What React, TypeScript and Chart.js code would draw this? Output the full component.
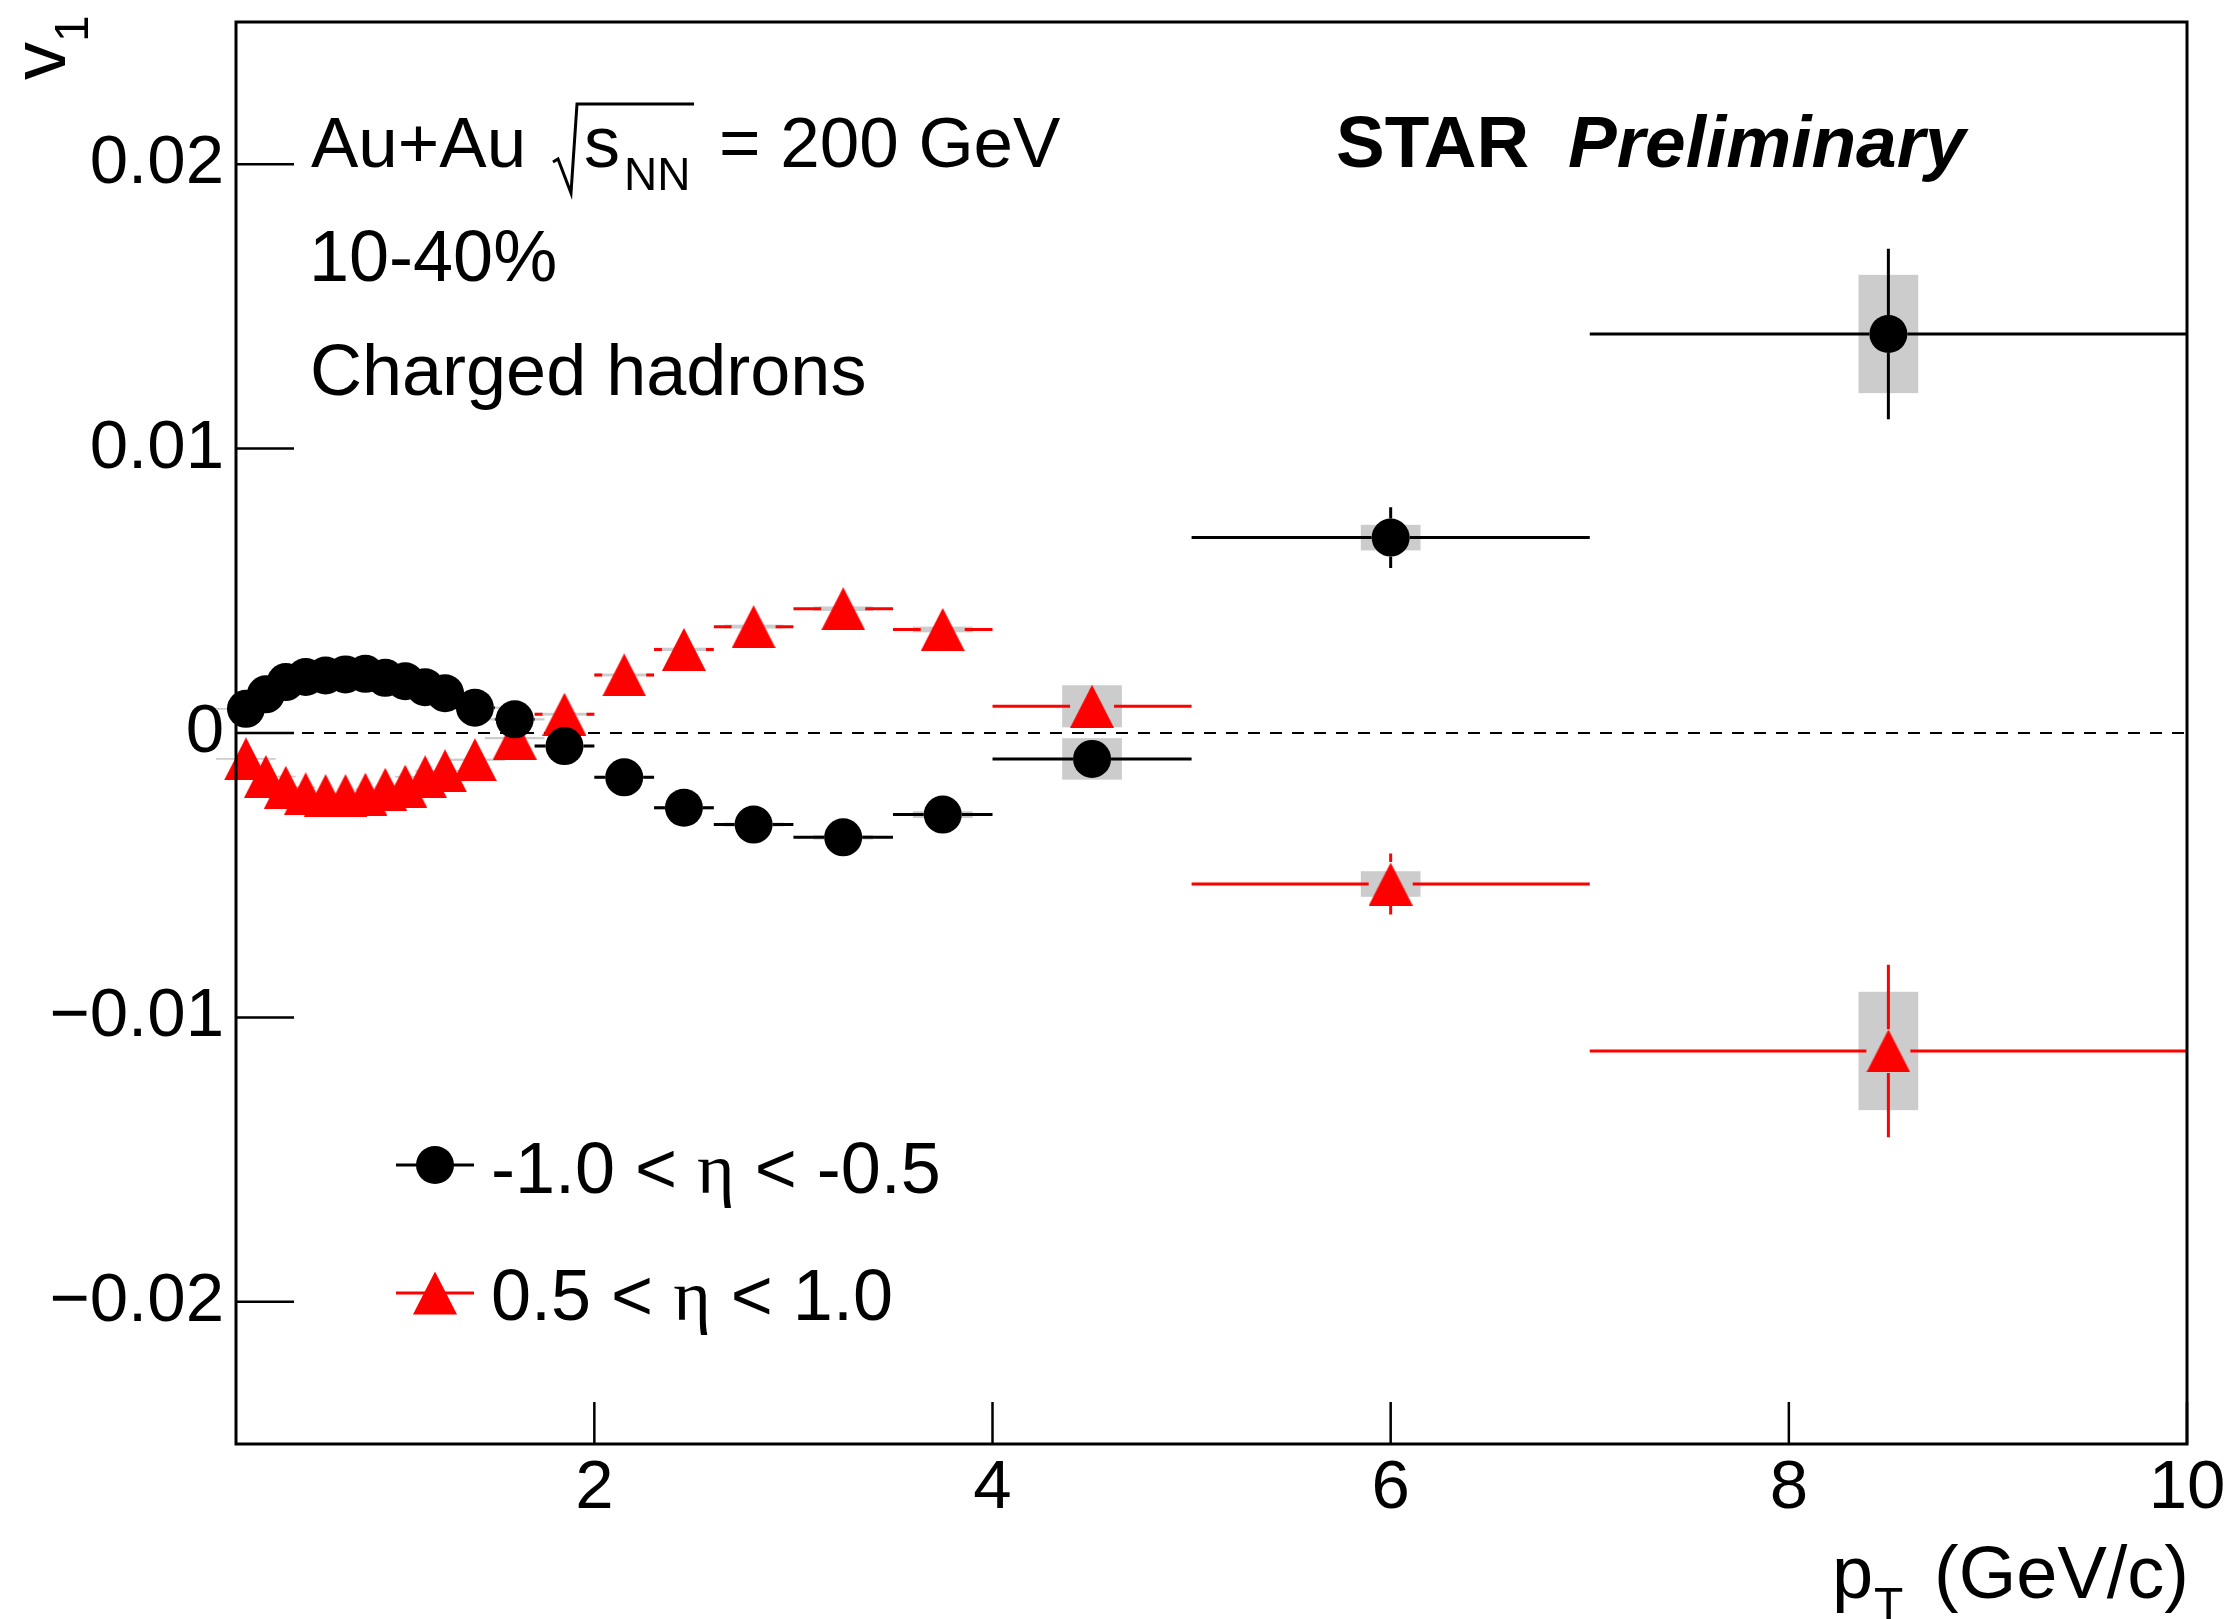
import React, { useEffect, useRef } from "react";
import { Chart, registerables } from "chart.js";

Chart.register(...registerables);

// ---------------- data ----------------
const ptCenters = [0.25, 0.35, 0.45, 0.55, 0.65, 0.75, 0.85, 0.95, 1.05, 1.15, 1.25, 1.4, 1.6, 1.85, 2.15, 2.45, 2.8, 3.25, 3.75, 4.5, 6, 8.5];
const ptLow = [0.2, 0.3, 0.4, 0.5, 0.6, 0.7, 0.8, 0.9, 1.0, 1.1, 1.2, 1.3, 1.5, 1.7, 2.0, 2.3, 2.6, 3.0, 3.5, 4.0, 5.0, 7.0];
const ptHigh = [0.3, 0.4, 0.5, 0.6, 0.7, 0.8, 0.9, 1.0, 1.1, 1.2, 1.3, 1.5, 1.7, 2.0, 2.3, 2.6, 3.0, 3.5, 4.0, 5.0, 7.0, 10.0];

const v1NegEta = [0.00085, 0.00136, 0.00179, 0.00197, 0.00202, 0.00206, 0.00208, 0.00194, 0.00182, 0.00161, 0.0014, 0.00089, 0.00048, -0.00046, -0.00156, -0.00263, -0.00322, -0.00367, -0.00287, -0.00091, 0.00687, 0.01403];
const v1NegEtaStat = [0.0001, 0.0001, 0.0001, 0.0001, 0.0001, 0.0001, 0.0001, 0.0001, 0.0001, 0.0001, 0.0001, 0.00011, 0.00012, 0.00013, 0.00015, 0.0002, 0.00025, 0.0003, 0.0004, 0.0005, 0.00107, 0.003];
const v1NegEtaSys = [0.00003, 0.00003, 0.00003, 0.00003, 0.00003, 0.00003, 0.00003, 0.00003, 0.00003, 0.00003, 0.00003, 0.00004, 0.00004, 0.00005, 0.00005, 0.00006, 0.00007, 0.00008, 0.00012, 0.00073, 0.00045, 0.00208];

const v1PosEta = [-0.00091, -0.00153, -0.00191, -0.00214, -0.0022, -0.0022, -0.00215, -0.00198, -0.00187, -0.00154, -0.00133, -0.00094, -0.00018, 0.00066, 0.00204, 0.00294, 0.00374, 0.00437, 0.00364, 0.00094, -0.00531, -0.01118];
const v1PosEtaStat = [0.0001, 0.0001, 0.0001, 0.0001, 0.0001, 0.0001, 0.0001, 0.0001, 0.0001, 0.0001, 0.0001, 0.00011, 0.00012, 0.00013, 0.00015, 0.0002, 0.00025, 0.0003, 0.0004, 0.0005, 0.00107, 0.00303];
const v1PosEtaSys = [0.00003, 0.00003, 0.00003, 0.00003, 0.00003, 0.00003, 0.00003, 0.00003, 0.00003, 0.00003, 0.00003, 0.00004, 0.00004, 0.00005, 0.00005, 0.00006, 0.00007, 0.00008, 0.0001, 0.00074, 0.00045, 0.00208];

const sysBoxHalfWidth = 0.15;

const seriesLabels = ["-1.0 < η < -0.5", "0.5 < η < 1.0"];

const xTicks = [2, 4, 6, 8, 10];
const xTickLabels = ["2", "4", "6", "8", "10"];
const yTicks = [-0.02, -0.01, 0, 0.01, 0.02];
const yTickLabels = ["\u22120.02", "\u22120.01", "0", "0.01", "0.02"];

const xRange = [0.2, 10];
const yRange = [-0.025, 0.025];

// ---------------- styles ----------------
const SANS = '"Liberation Sans", Arial, Helvetica, sans-serif';
const SERIF = '"Liberation Serif", "Times New Roman", serif';
const RED = "#ff0000";
const BLACK = "#000000";
const SYS_GRAY = "#cccccc";

const CIRCLE_R = 19;
const TRI_W = 44;
const TRI_H = 43;

function makeTriangle(color: string): HTMLCanvasElement {
  const c = document.createElement("canvas");
  c.width = TRI_W;
  c.height = TRI_H;
  const g = c.getContext("2d")!;
  g.fillStyle = color;
  g.beginPath();
  g.moveTo(TRI_W / 2, 0);
  g.lineTo(TRI_W, TRI_H);
  g.lineTo(0, TRI_H);
  g.closePath();
  g.fill();
  return c;
}

function drawMarker(ctx: CanvasRenderingContext2D, kind: string, color: string, x: number, y: number) {
  ctx.fillStyle = color;
  ctx.beginPath();
  if (kind === "circle") {
    ctx.arc(x, y, CIRCLE_R, 0, Math.PI * 2);
  } else {
    ctx.moveTo(x, y - TRI_H / 2);
    ctx.lineTo(x + TRI_W / 2, y + TRI_H / 2);
    ctx.lineTo(x - TRI_W / 2, y + TRI_H / 2);
    ctx.closePath();
  }
  ctx.fill();
}

const seriesDefs = [
  { label: seriesLabels[0], values: v1NegEta, stat: v1NegEtaStat, sys: v1NegEtaSys, color: BLACK, marker: "circle", half: CIRCLE_R },
  { label: seriesLabels[1], values: v1PosEta, stat: v1PosEtaStat, sys: v1PosEtaSys, color: RED, marker: "triangle", half: TRI_W / 2 },
];

const decorPlugin = {
  id: "decor",
  beforeDatasetsDraw(chart: any) {
    const { ctx, chartArea: a, scales } = chart;
    const xs = scales.x;
    const ys = scales.y;
    ctx.save();
    // systematic boxes
    ctx.fillStyle = SYS_GRAY;
    for (const s of seriesDefs) {
      s.values.forEach((v: number, i: number) => {
        const x0 = xs.getPixelForValue(ptCenters[i] - sysBoxHalfWidth);
        const x1 = xs.getPixelForValue(ptCenters[i] + sysBoxHalfWidth);
        const y0 = ys.getPixelForValue(v + s.sys[i]);
        const y1 = ys.getPixelForValue(v - s.sys[i]);
        ctx.fillRect(x0, y0, x1 - x0, Math.max(y1 - y0, 1));
      });
    }
    // zero dashed line
    ctx.strokeStyle = BLACK;
    ctx.lineWidth = 2;
    ctx.setLineDash([12, 10]);
    const y0 = ys.getPixelForValue(0);
    ctx.beginPath();
    ctx.moveTo(a.left, y0);
    ctx.lineTo(a.right, y0);
    ctx.stroke();
    ctx.setLineDash([]);
    // error bars
    ctx.lineWidth = 3;
    for (const s of seriesDefs) {
      ctx.strokeStyle = s.color;
      s.values.forEach((v: number, i: number) => {
        const cx = xs.getPixelForValue(ptCenters[i]);
        const cy = ys.getPixelForValue(v);
        const xl = xs.getPixelForValue(ptLow[i]);
        const xh = xs.getPixelForValue(ptHigh[i]);
        const yt = ys.getPixelForValue(v + s.stat[i]);
        const yb = ys.getPixelForValue(v - s.stat[i]);
        const h = s.half;
        ctx.beginPath();
        if (xl < cx - h) { ctx.moveTo(xl, cy); ctx.lineTo(cx - h, cy); }
        if (xh > cx + h) { ctx.moveTo(cx + h, cy); ctx.lineTo(xh, cy); }
        if (yt < cy - h) { ctx.moveTo(cx, yt); ctx.lineTo(cx, cy - h); }
        if (yb > cy + h) { ctx.moveTo(cx, cy + h); ctx.lineTo(cx, yb); }
        ctx.stroke();
      });
    }
    ctx.restore();
  },
  afterDatasetsDraw(chart: any) {
    const { ctx, chartArea: a, scales } = chart;
    const xs = scales.x;
    const ys = scales.y;
    ctx.save();
    // frame
    ctx.strokeStyle = BLACK;
    ctx.lineWidth = 3;
    ctx.strokeRect(a.left, a.top, a.right - a.left, a.bottom - a.top);
    // ticks (inside)
    ctx.lineWidth = 2.5;
    ctx.beginPath();
    xTicks.forEach((t) => {
      const px = xs.getPixelForValue(t);
      ctx.moveTo(px, a.bottom);
      ctx.lineTo(px, a.bottom - 42);
    });
    yTicks.forEach((t) => {
      const py = ys.getPixelForValue(t);
      ctx.moveTo(a.left, py);
      ctx.lineTo(a.left + 58, py);
    });
    ctx.stroke();

    ctx.fillStyle = BLACK;
    ctx.textBaseline = "alphabetic";
    ctx.textAlign = "left";

    // y title v_1 (rotated)
    ctx.save();
    ctx.translate(65, 80);
    ctx.rotate(-Math.PI / 2);
    ctx.font = `76px ${SANS}`;
    ctx.fillText("v", 0, 0);
    const vw = ctx.measureText("v").width;
    ctx.font = `48px ${SANS}`;
    ctx.fillText("1", vw, 23);
    ctx.restore();

    // x title p_T (GeV/c)
    ctx.font = `74px ${SANS}`;
    ctx.fillText("p", 1832, 1598);
    ctx.font = `48px ${SANS}`;
    ctx.fillText("T", 1874, 1621);
    ctx.font = `74px ${SANS}`;
    ctx.textAlign = "right";
    ctx.fillText("(GeV/c)", 2189, 1598);
    ctx.textAlign = "left";

    // annotations
    ctx.font = `71px ${SANS}`;
    ctx.fillText("Au+Au", 311, 167);
    ctx.lineWidth = 3;
    ctx.beginPath();
    ctx.moveTo(553, 162);
    ctx.lineTo(558, 159);
    ctx.lineTo(571, 193);
    ctx.lineTo(577, 104);
    ctx.lineTo(694, 104);
    ctx.stroke();
    ctx.font = `72px ${SANS}`;
    ctx.fillText("s", 584, 167);
    ctx.font = `46px ${SANS}`;
    ctx.fillText("NN", 624, 190);
    ctx.font = `71px ${SANS}`;
    ctx.fillText("= 200 GeV", 719, 167);
    ctx.font = `72px ${SANS}`;
    ctx.fillText("10-40%", 309, 281);
    ctx.fillText("Charged hadrons", 310, 395);

    ctx.font = `bold 73px ${SANS}`;
    ctx.fillText("STAR", 1336, 167);
    ctx.font = `italic bold 73px ${SANS}`;
    ctx.fillText("Preliminary", 1568, 167);

    // legend
    const legendRows = [
      { cy: 1165, base: 1193 },
      { cy: 1293, base: 1320 },
    ];
    seriesDefs.forEach((s, k) => {
      const r = legendRows[k];
      ctx.strokeStyle = s.color;
      ctx.lineWidth = 3;
      ctx.beginPath();
      ctx.moveTo(396, r.cy);
      ctx.lineTo(474, r.cy);
      ctx.stroke();
      drawMarker(ctx, s.marker, s.color, 435, r.cy);
      ctx.fillStyle = BLACK;
      const parts = s.label.split("η");
      let x = 491;
      ctx.font = `72px ${SANS}`;
      ctx.fillText(parts[0], x, r.base);
      x += ctx.measureText(parts[0]).width;
      ctx.font = `72px ${SERIF}`;
      ctx.fillText("η", x, r.base);
      x += ctx.measureText("η").width;
      ctx.font = `72px ${SANS}`;
      ctx.fillText(parts[1], x, r.base);
    });
    ctx.restore();
  },
};

export default function App() {
  const ref = useRef<HTMLCanvasElement>(null);
  useEffect(() => {
    const canvas = ref.current;
    if (!canvas) return;
    const tri = makeTriangle(RED);
    const chart = new Chart(canvas, {
      type: "scatter",
      data: {
        datasets: [
          {
            label: seriesLabels[0],
            data: ptCenters.map((x, i) => ({ x, y: v1NegEta[i] })),
            pointStyle: "circle",
            pointRadius: CIRCLE_R,
            backgroundColor: BLACK,
            borderWidth: 0,
            clip: false,
          } as any,
          {
            label: seriesLabels[1],
            data: ptCenters.map((x, i) => ({ x, y: v1PosEta[i] })),
            pointStyle: tri,
            pointRadius: TRI_W / 2,
            backgroundColor: RED,
            borderWidth: 0,
            clip: false,
          } as any,
        ],
      },
      options: {
        responsive: false,
        devicePixelRatio: 1,
        animation: false,
        events: [],
        layout: { padding: { left: 0, top: 21, right: 47, bottom: 0 } },
        plugins: { legend: { display: false }, tooltip: { enabled: false } },
        scales: {
          x: {
            type: "linear",
            min: xRange[0],
            max: xRange[1],
            grid: { display: false, drawTicks: false },
            border: { display: false },
            ticks: {
              color: BLACK,
              font: { family: SANS, size: 69 },
              padding: 4,
              maxRotation: 0,
              autoSkip: false,
              callback: (v: any) => {
                const i = xTicks.indexOf(Number(v));
                return i >= 0 ? xTickLabels[i] : "";
              },
            },
            afterBuildTicks: (s: any) => {
              s.ticks = xTicks.map((v) => ({ value: v }));
            },
            afterFit: (s: any) => {
              s.height = 175;
              s.paddingLeft = 0;
              s.paddingRight = 0;
            },
          },
          y: {
            type: "linear",
            min: yRange[0],
            max: yRange[1],
            grid: { display: false, drawTicks: false },
            border: { display: false },
            ticks: {
              color: BLACK,
              font: { family: SANS, size: 69 },
              padding: 12,
              autoSkip: false,
              callback: (v: any) => {
                const i = yTicks.findIndex((t) => Math.abs(t - Number(v)) < 1e-9);
                return i >= 0 ? yTickLabels[i] : "";
              },
            },
            afterBuildTicks: (s: any) => {
              s.ticks = yTicks.map((v) => ({ value: v }));
            },
            afterFit: (s: any) => {
              s.width = 236;
              s.paddingTop = 0;
              s.paddingBottom = 0;
            },
          },
        },
      } as any,
      plugins: [decorPlugin],
    });
    return () => chart.destroy();
  }, []);
  return (
    <div style={{ position: "fixed", left: 0, top: 0, width: 2234, height: 1619, background: "#ffffff" }}>
      <canvas ref={ref} width={2234} height={1619} style={{ width: 2234, height: 1619, display: "block" }} />
    </div>
  );
}
